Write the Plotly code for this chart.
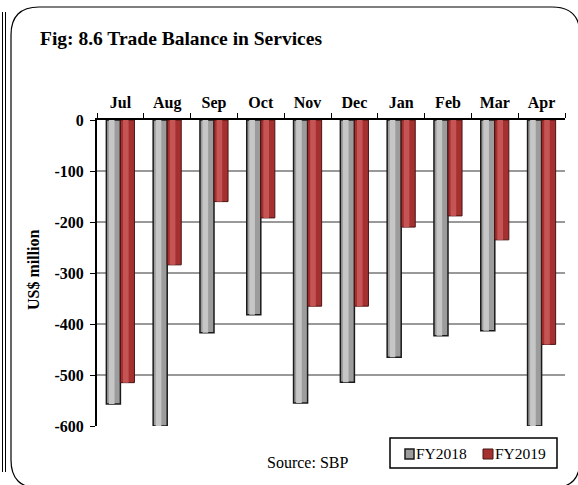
import plotly.graph_objects as go

months = ["Jul", "Aug", "Sep", "Oct", "Nov", "Dec", "Jan", "Feb", "Mar", "Apr"]
fy2018 = [-557, -600, -417, -382, -555, -514, -465, -423, -413, -600]
fy2019 = [-515, -284, -160, -192, -365, -365, -210, -188, -235, -440]
y_ticks = [0, -100, -200, -300, -400, -500, -600]
y_tick_labels = ["0", "-100", "-200", "-300", "-400", "-500", "-600"]
series_names = ["FY2018", "FY2019"]

FONT = "Liberation Serif, Times New Roman, serif"

W, H = 578, 485
pl, pr, pt, pb = 97, 13, 120, 59
pw, ph = W - pl - pr, H - pt - pb
def px(x):
    return (x - pl) / pw
def py(y):
    return 1 - (y - pt) / ph

GRAY, GRAY_HI, GRAY_LINE = "#9c9c9c", "#c6c6c6", "#1a1a1a"
RED, RED_HI, RED_LINE = "#a53030", "#c55454", "#4a1414"

fig = go.Figure()
# main bars
fig.add_trace(go.Bar(x=months, y=fy2018, name=series_names[0], offset=-0.3, width=0.3,
                     marker=dict(color=GRAY, line=dict(color=GRAY_LINE, width=1.5))))
fig.add_trace(go.Bar(x=months, y=fy2019, name=series_names[1], offset=0.0, width=0.3,
                     marker=dict(color=RED, line=dict(color=RED_LINE, width=1))))
# highlight strips (cylinder shading)
fig.add_trace(go.Bar(x=months, y=fy2018, offset=-0.245, width=0.12, hoverinfo="skip",
                     showlegend=False, marker=dict(color=GRAY_HI, line=dict(width=0))))
fig.add_trace(go.Bar(x=months, y=fy2019, offset=0.055, width=0.12, hoverinfo="skip",
                     showlegend=False, marker=dict(color=RED_HI, line=dict(width=0))))

fig.update_layout(
    width=W, height=H,
    margin=dict(l=pl, r=pr, t=pt, b=pb, autoexpand=False),
    paper_bgcolor="white", plot_bgcolor="white",
    barmode="overlay",
    font=dict(family=FONT, color="black"),
    showlegend=False,
    annotations=[
        dict(text="<b>Fig: 8.6 Trade Balance in Services</b>", xref="paper", yref="paper",
             x=px(38), y=py(38), xanchor="left", yanchor="middle", showarrow=False,
             font=dict(size=19.5, family=FONT)),
        dict(text="Source: SBP", xref="paper", yref="paper", x=px(307), y=py(462),
             xanchor="center", yanchor="middle", showarrow=False,
             font=dict(size=16, family=FONT)),
        dict(text="<b>US$ million</b>", xref="paper", yref="paper", x=px(33), y=py(270),
             xanchor="center", yanchor="middle", showarrow=False, textangle=-90,
             font=dict(size=16, family=FONT)),
        dict(text=series_names[0], xref="paper", yref="paper", x=px(414), y=py(454),
             xanchor="left", yanchor="middle", showarrow=False,
             font=dict(size=15.5, family=FONT)),
        dict(text=series_names[1], xref="paper", yref="paper", x=px(493), y=py(454),
             xanchor="left", yanchor="middle", showarrow=False,
             font=dict(size=15.5, family=FONT)),
    ],
)

fig.update_xaxes(side="top", showline=True, linecolor="black", linewidth=2,
                 ticks="outside", tickson="boundaries", ticklen=5, tickcolor="black",
                 tickfont=dict(size=16, family=FONT), showgrid=False,
                 ticklabelstandoff=4,
                 tickprefix="<b>", ticksuffix="</b>")
fig.update_yaxes(range=[-600, 0], tickvals=y_ticks,
                 ticktext=["<b>" + t + "</b>" for t in y_tick_labels],
                 showline=True, linecolor="black",
                 linewidth=2, ticks="outside", ticklen=5, tickcolor="black",
                 showgrid=True, gridcolor="#999999", gridwidth=1.5, zeroline=False,
                 ticklabelstandoff=3,
                 tickfont=dict(size=16, family=FONT))

# outer rounded frame
r = 28
x0, x1, y0, y1 = 11, 580, 7, 488
path = (f"M {px(x0)} {py(y0 + r)} Q {px(x0)} {py(y0)} {px(x0 + r)} {py(y0)} "
        f"L {px(x1 - r)} {py(y0)} Q {px(x1)} {py(y0)} {px(x1)} {py(y0 + r)} "
        f"L {px(x1)} {py(y1 - r)} Q {px(x1)} {py(y1)} {px(x1 - r)} {py(y1)} "
        f"L {px(x0 + r)} {py(y1)} Q {px(x0)} {py(y1)} {px(x0)} {py(y1 - r)} Z")
fig.add_shape(type="path", xref="paper", yref="paper", path=path,
              line=dict(color="black", width=1.2), layer="below")
for xx in (2.5, 5.5):
    fig.add_shape(type="line", xref="paper", yref="paper",
                  x0=px(xx), x1=px(xx), y0=py(12), y1=py(472),
                  line=dict(color="black", width=1))

# legend box and swatches
fig.add_shape(type="rect", xref="paper", yref="paper",
              x0=px(390), x1=px(557), y0=py(438), y1=py(468),
              line=dict(color="black", width=1.5), fillcolor="white")
fig.add_shape(type="rect", xref="paper", yref="paper",
              x0=px(405), x1=px(414), y0=py(449), y1=py(459),
              line=dict(color=GRAY_LINE, width=1.5), fillcolor=GRAY)
fig.add_shape(type="rect", xref="paper", yref="paper",
              x0=px(483), x1=px(493), y0=py(449), y1=py(459),
              line=dict(color=RED_LINE, width=1), fillcolor=RED)

fig.write_html("out.html", config={"displayModeBar": False},
               post_script="document.body.style.margin='0';document.body.style.overflow='hidden';")
